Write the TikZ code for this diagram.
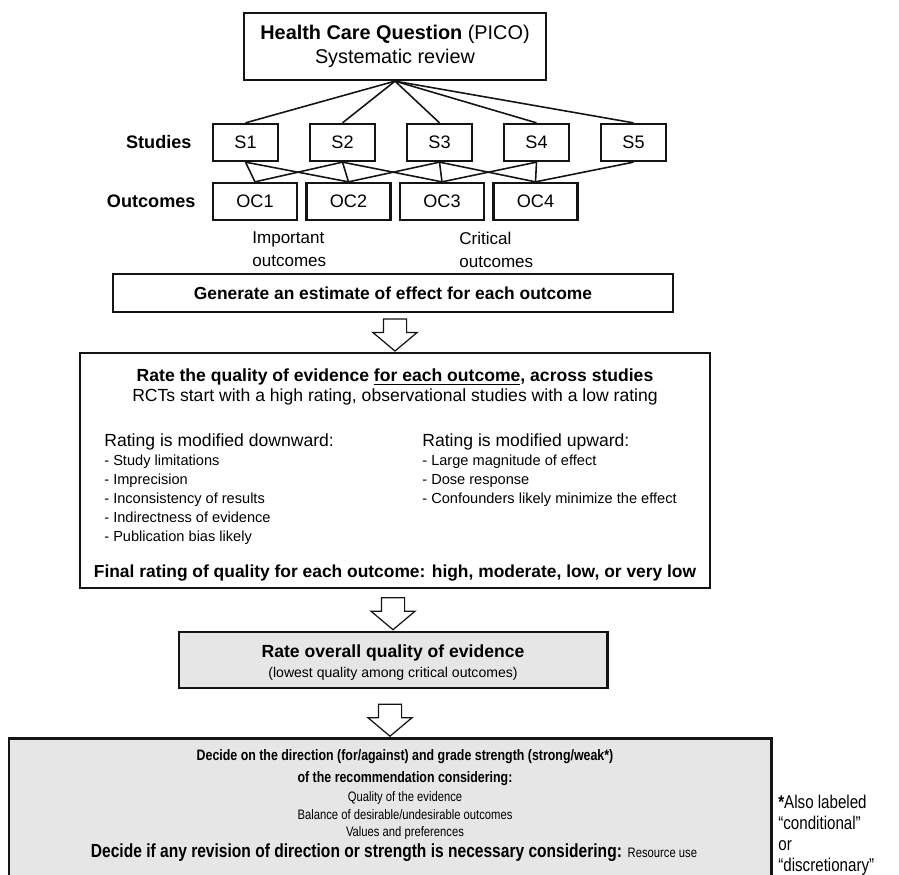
\documentclass[tikz,border=0pt]{standalone}
\usepackage{fontspec}
\setmainfont{Liberation Sans}
\newfontfamily\narrowfont[FakeStretch=0.82]{Liberation Sans}
\usetikzlibrary{shapes.arrows, positioning, calc}
\definecolor{boxgray}{RGB}{230,230,230}
\definecolor{inkdark}{RGB}{20,20,20}
\tikzset{
  plainbox/.style={rectangle, draw=inkdark, line width=1.3pt, align=center, inner sep=0pt},
  sbox/.style={plainbox, minimum width=1.30cm, minimum height=0.74cm,
    font=\fontsize{10.3}{12}\selectfont},
  ocbox/.style={sbox, minimum width=1.68cm},
  rowlabel/.style={font=\fontsize{10.3}{12}\selectfont\bfseries, inner sep=0pt},
  grouplabel/.style={anchor=west, align=left, inner sep=0pt,
    font=\fontsize{9.7}{13}\selectfont},
  grayblock/.style={rectangle, draw=inkdark, fill=boxgray, line width=1.7pt, inner sep=0pt},
  hollowarrow/.style={single arrow, draw=inkdark, fill=white, line width=0.7pt,
    rotate=-90, minimum height=0.64cm, inner xsep=0pt, inner ysep=0.22cm,
    single arrow head extend=0.21cm, single arrow tip angle=100},
  link/.style={line width=0.9pt, color=inkdark}
}

\begin{document}
\begin{tikzpicture}
  \useasboundingbox (0,0) rectangle (17.98,-17.5);
  \clip (0,0) rectangle (17.98,-17.5);

  % question and studies
  \node[plainbox, minimum width=6.04cm, minimum height=1.34cm,
    font=\fontsize{11.3}{14}\selectfont] (quest) at (7.90,-0.93)
    {\textbf{Health Care Question} (PICO)\\Systematic review};

  \foreach \i in {1,...,5}
    \node[sbox] (s\i) at ({4.91+1.94*(\i-1)},-2.85) {S\i};
  \foreach \i in {1,...,4}
    \node[ocbox] (oc\i) at ({5.10+1.87*(\i-1)},-4.03) {OC\i};

  \node[rowlabel, left=0.40cm of s1] (studies) {Studies};
  \node[rowlabel, left=0.32cm of oc1] (outcomes) {Outcomes};

  \foreach \i in {1,...,5}
    \draw[link] (quest.south) -- (s\i.north);
  \foreach \a/\b in {1/1,1/2,2/1,2/2,2/3,3/2,3/3,3/4,4/3,4/4,5/4}
    \draw[link] (s\a.south) -- (oc\b.north);

  \node[grouplabel] (important) at (5.04,-4.99) {Important\\outcomes};
  \node[grouplabel] (critical) at (9.18,-4.99) {Critical\\outcomes};

  \node[plainbox, minimum width=11.2cm, minimum height=0.76cm,
    font=\fontsize{9.9}{12}\selectfont\bfseries] (estimate) at (7.86,-5.86)
    {Generate an estimate of effect for each outcome};

  % rating of each outcome
  \node[plainbox, minimum width=12.6cm, minimum height=4.7cm] (rating) at (7.90,-9.41) {};
  \node[font=\fontsize{10}{11.3}\selectfont, align=center, inner sep=0pt] (ratehead) at (7.90,-7.74)
    {\textbf{Rate the quality of evidence \underline{for each outcome}, across studies}\\
     RCTs start with a high rating, observational studies with a low rating};
  \node[anchor=north west, align=left, inner sep=0pt,
    font=\fontsize{8.3}{10.9}\selectfont] (down) at (2.08,-8.66)
    {{\fontsize{10}{10.9}\selectfont Rating is modified downward:}\\
     - Study limitations\\
     - Imprecision\\
     - Inconsistency of results\\
     - Indirectness of evidence\\
     - Publication bias likely};
  \node[anchor=north west, align=left, inner sep=0pt,
    font=\fontsize{8.3}{10.9}\selectfont] (up) at (8.44,-8.66)
    {{\fontsize{10}{10.9}\selectfont Rating is modified upward:}\\
     - Large magnitude of effect\\
     - Dose response\\
     - Confounders likely minimize the effect};
  \node[font=\fontsize{9.9}{12}\selectfont\bfseries, inner sep=0pt] (final) at (7.90,-11.46)
    {Final rating of quality for each outcome: high, moderate, low, or very low};

  % overall quality
  \node[grayblock, minimum width=8.56cm, minimum height=1.12cm] (overall) at (7.86,-13.20) {};
  \node[align=center, inner sep=0pt, font=\fontsize{8}{11.3}\selectfont] (overalltext) at (7.86,-13.26)
    {{\fontsize{10}{11.3}\selectfont\bfseries Rate overall quality of evidence}\\
     (lowest quality among critical outcomes)};

  % recommendation
  \node[grayblock, minimum width=15.24cm, minimum height=3.4cm, anchor=north] (decide) at (7.80,-14.74) {};
  \node[align=center, inner sep=0pt, font=\narrowfont\fontsize{8.6}{12.5}\selectfont\bfseries] (direction) at (8.10,-15.36)
    {Decide on the direction (for/against) and grade strength (strong/weak*)\\
     of the recommendation considering:};
  \node[align=center, inner sep=0pt, font=\narrowfont\fontsize{7.8}{9.9}\selectfont] (criteria) at (8.10,-16.31)
    {Quality of the evidence\\Balance of desirable/undesirable outcomes\\Values and preferences};
  \node[inner sep=0pt, font=\narrowfont\fontsize{10.8}{12}\selectfont] (revision) at (7.88,-17.06)
    {\textbf{Decide if any revision of direction or strength is necessary considering:}
     {\fontsize{7.8}{9}\selectfont Resource use}};

  \node[anchor=west, align=left, inner sep=0pt, font=\narrowfont\fontsize{10.5}{11.9}\selectfont] (footnote) at (15.56,-16.71)
    {\textbf{*}Also labeled\\“conditional”\\or\\“discretionary”};

  % block arrows
  \node[hollowarrow, anchor=tip] (arr1) at (rating.north) {};
  \node[hollowarrow, anchor=tip] (arr2) at (overall.north) {};
  \node[hollowarrow, anchor=tip] (arr3) at (decide.north) {};
\end{tikzpicture}
\end{document}
